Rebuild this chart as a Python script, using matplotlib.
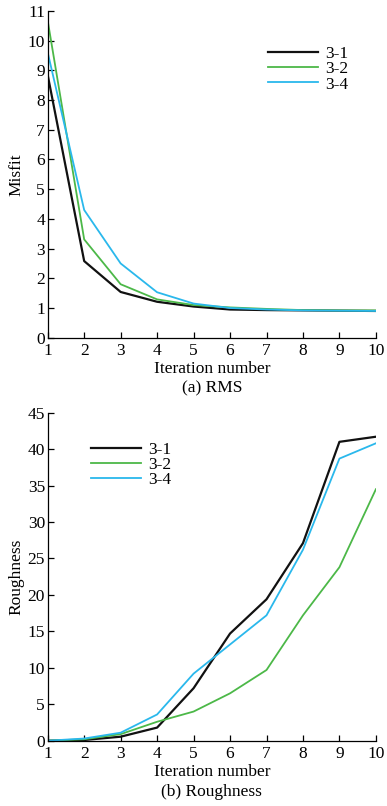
import matplotlib
matplotlib.use("Agg")
import matplotlib.pyplot as plt

plt.rcParams['font.family'] = ['Liberation Serif', 'DejaVu Serif']
plt.rcParams['mathtext.fontset'] = 'stix'

iterations = [1, 2, 3, 4, 5, 6, 7, 8, 9, 10]
series_names = ['3-1', '3-2', '3-4']

misfit_31 = [8.84, 2.58, 1.54, 1.21, 1.05, 0.95, 0.93, 0.92, 0.91, 0.90]
misfit_32 = [10.67, 3.31, 1.80, 1.29, 1.10, 1.02, 0.97, 0.93, 0.92, 0.92]
misfit_34 = [9.60, 4.30, 2.50, 1.53, 1.15, 1.00, 0.95, 0.92, 0.91, 0.90]

rough_31 = [0.0, 0.1, 0.55, 1.8, 7.2, 14.7, 19.4, 27.1, 41.0, 41.7]
rough_32 = [0.0, 0.2, 0.9, 2.6, 4.0, 6.5, 9.7, 17.2, 23.8, 34.5]
rough_34 = [0.0, 0.3, 1.1, 3.6, 9.2, 13.2, 17.2, 26.2, 38.7, 40.8]

colors = ['#111111', '#4cb848', '#2ab8ec']
widths = [1.6, 1.3, 1.3]

fig = plt.figure(figsize=(3.87, 8.06), dpi=100)
ax1 = fig.add_axes([0.1233, 0.581, 0.848, 0.4054])
ax2 = fig.add_axes([0.1233, 0.081, 0.848, 0.407])

fs = 12.5

def style(ax, ymax, ystep, ylabel, caption):
    ax.set_xlim(1, 10)
    ax.set_ylim(0, ymax)
    ax.set_xticks(iterations)
    ax.set_yticks(list(range(0, ymax + 1, ystep)))
    for s in ['top', 'right']:
        ax.spines[s].set_visible(False)
    for s in ['left', 'bottom']:
        ax.spines[s].set_linewidth(0.9)
    ax.tick_params(direction='in', length=4, width=0.9, labelsize=fs)
    ax.tick_params(axis='x', pad=4)
    ax.tick_params(axis='y', pad=2)
    ax.set_xlabel('Iteration number', fontsize=fs, labelpad=1)
    ax.set_ylabel(ylabel, fontsize=fs, labelpad=2)
    ax.text(0.5, -0.155, caption, transform=ax.transAxes, ha='center', va='center', fontsize=fs)

for vals, name, c, w in zip([misfit_31, misfit_32, misfit_34], series_names, colors, widths):
    ax1.plot(iterations, vals, color=c, lw=w, label=name)
style(ax1, 11, 1, 'Misfit', '(a) RMS')
ax1.legend(loc='upper left', bbox_to_anchor=(0.645, 0.92), frameon=False, fontsize=fs,
           handlelength=2.9, handletextpad=0.4, labelspacing=-0.05, borderpad=0)

for vals, name, c, w in zip([rough_31, rough_32, rough_34], series_names, colors, widths):
    ax2.plot(iterations, vals, color=c, lw=w, label=name)
style(ax2, 45, 5, 'Roughness', '(b) Roughness')
ax2.legend(loc='upper left', bbox_to_anchor=(0.105, 0.938), frameon=False, fontsize=fs,
           handlelength=2.9, handletextpad=0.4, labelspacing=-0.05, borderpad=0)

fig.savefig('out.png', dpi=100)
